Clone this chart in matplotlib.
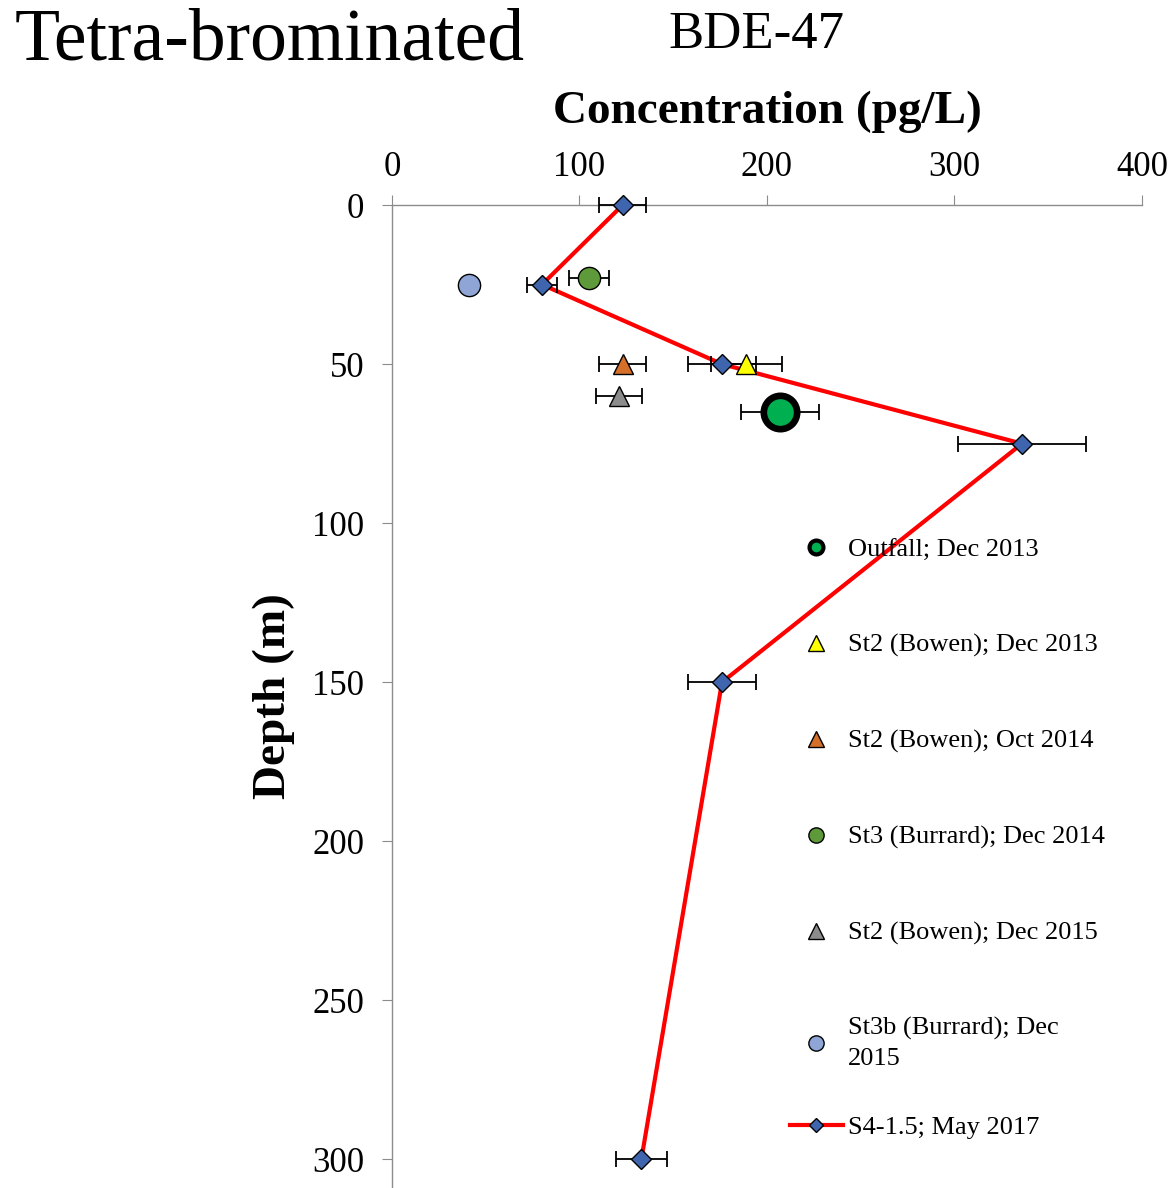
import matplotlib
matplotlib.use('Agg')
import matplotlib.pyplot as plt
from matplotlib.lines import Line2D

plt.rcParams['font.family'] = ['Liberation Serif', 'DejaVu Serif']

# data (concentration pg/L, depth m, +/- error)
s4_depth = [0, 25, 50, 75, 150, 300]
s4_conc = [123, 80, 176, 336, 176, 133]
s4_err = [12.5, 8, 18, 34, 18, 13.5]

outfall_depth = [65]
outfall_conc = [207]
outfall_err = [21]

st2_dec13_depth = [50]
st2_dec13_conc = [189]
st2_dec13_err = [19]

st2_oct14_depth = [50]
st2_oct14_conc = [123]
st2_oct14_err = [12.5]

st3_dec14_depth = [23]
st3_dec14_conc = [105]
st3_dec14_err = [10.7]

st2_dec15_depth = [60]
st2_dec15_conc = [121]
st2_dec15_err = [12.3]

st3b_dec15_depth = [25]
st3b_dec15_conc = [41]

x_ticks = [0, 100, 200, 300, 400]
y_ticks = [0, 50, 100, 150, 200, 250, 300]

fig = plt.figure(figsize=(11.75, 11.88), dpi=100)
ax = fig.add_axes([0.3336, 0.0, 0.6383, 0.8274])

ebar = dict(fmt='none', ecolor='black', elinewidth=1.3, capsize=6, capthick=1.3, zorder=3, clip_on=False)

# red profile line
ax.plot(s4_conc, s4_depth, color='#FF0000', lw=3, zorder=2, clip_on=False)

# error bars
ax.errorbar(s4_conc, s4_depth, xerr=s4_err, **ebar)
ax.errorbar(outfall_conc, outfall_depth, xerr=outfall_err, **ebar)
ax.errorbar(st2_dec13_conc, st2_dec13_depth, xerr=st2_dec13_err, **ebar)
ax.errorbar(st2_oct14_conc, st2_oct14_depth, xerr=st2_oct14_err, **ebar)
ax.errorbar(st3_dec14_conc, st3_dec14_depth, xerr=st3_dec14_err, **ebar)
ax.errorbar(st2_dec15_conc, st2_dec15_depth, xerr=st2_dec15_err, **ebar)

# markers
mk = dict(ls='none', mec='black', mew=1, zorder=5, clip_on=False)
ax.plot(s4_conc, s4_depth, marker='D', ms=10, mfc='#3F65AE', **mk)
ax.plot(outfall_conc, outfall_depth, ls='none', marker='o', ms=24, mfc='#00B050', mec='black', mew=4.8, zorder=5)
ax.plot(st2_dec13_conc, st2_dec13_depth, marker='^', ms=15, mfc='#FFFF00', **{**mk, 'zorder': 6})
ax.plot(st2_oct14_conc, st2_oct14_depth, marker='^', ms=15, mfc='#D5702A', **mk)
ax.plot(st3_dec14_conc, st3_dec14_depth, marker='o', ms=16, mfc='#5E9A3A', **mk)
ax.plot(st2_dec15_conc, st2_dec15_depth, marker='^', ms=15, mfc='#8C8C8C', **mk)
ax.plot(st3b_dec15_conc, st3b_dec15_depth, marker='o', ms=16, mfc='#8EA5D6', **mk)

# axes styling
ax.set_xlim(0, 400)
ax.set_ylim(309, 0)
ax.set_xticks(x_ticks)
ax.set_yticks(y_ticks)
ax.xaxis.tick_top()
ax.xaxis.set_label_position('top')
for s in ['right', 'bottom']:
    ax.spines[s].set_visible(False)
for s in ['left', 'top']:
    ax.spines[s].set_color('#8C8C8C')
    ax.spines[s].set_linewidth(1)
ax.tick_params(axis='both', direction='out', length=7, color='#8C8C8C', labelsize=25, pad=8)
ax.tick_params(axis='y', pad=13)
ax.set_xlabel('Concentration (pg/L)', fontsize=34, fontweight='bold', labelpad=20)
ax.set_ylabel('Depth (m)', fontsize=34, fontweight='bold', labelpad=12)

# titles
fig.text(15 / 1175, 1 - 60 / 1188, 'Tetra-brominated', fontsize=53, ha='left', va='baseline')
fig.text(668 / 1175, 1 - 48 / 1188, 'BDE-47', fontsize=38, ha='left', va='baseline')

# legend (proxy handles with smaller markers, as in the original)
h1 = [
    Line2D([], [], ls='none', marker='o', ms=10, mfc='#00B050', mec='black', mew=3),
    Line2D([], [], ls='none', marker='^', ms=11, mfc='#FFFF00', mec='black', mew=1),
    Line2D([], [], ls='none', marker='^', ms=11, mfc='#D5702A', mec='black', mew=1),
    Line2D([], [], ls='none', marker='o', ms=11, mfc='#5E9A3A', mec='black', mew=1),
    Line2D([], [], ls='none', marker='^', ms=11, mfc='#8C8C8C', mec='black', mew=1),
    Line2D([], [], ls='none', marker='o', ms=11, mfc='#8EA5D6', mec='black', mew=1),
]
l1 = ['Outfall; Dec 2013', 'St2 (Bowen); Dec 2013', 'St2 (Bowen); Oct 2014',
      'St3 (Burrard); Dec 2014', 'St2 (Bowen); Dec 2015', 'St3b (Burrard); Dec\n2015']
leg1 = fig.legend(h1, l1, loc='upper left', bbox_to_anchor=(790 / 1175, 1 - 538 / 1188),
                  frameon=False, fontsize=19, borderpad=0, borderaxespad=0,
                  handlelength=2.0, handletextpad=0.2, labelspacing=2.73)
leg1.get_texts()[-1].set_linespacing(1.45)
h2 = [Line2D([], [], color='#FF0000', lw=3, marker='D', ms=7.6, mfc='#3F65AE', mec='black', mew=1)]
fig.legend(h2, ['S4-1.5; May 2017'], loc='upper left', bbox_to_anchor=(790 / 1175, 1 - 1116 / 1188),
           frameon=False, fontsize=19, borderpad=0, borderaxespad=0,
           handlelength=2.0, handletextpad=0.2)

fig.savefig('out.png', dpi=100)
